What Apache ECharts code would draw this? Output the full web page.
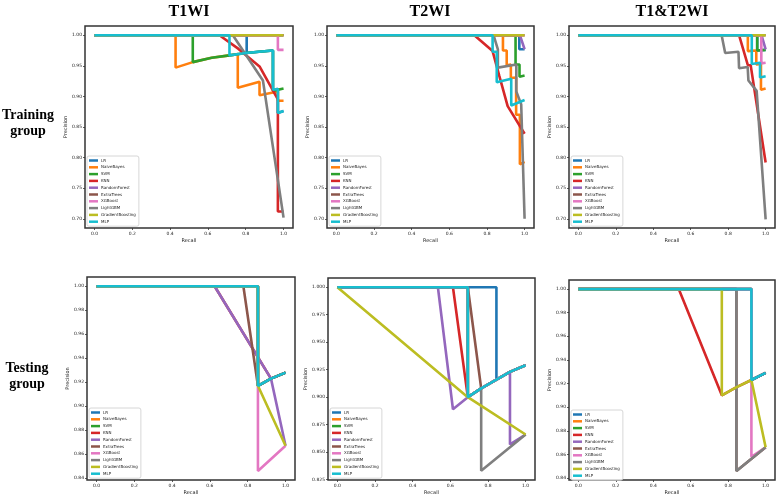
<!DOCTYPE html>
<html>
<head>
<meta charset="utf-8">
<script src="https://cdn.jsdelivr.net/npm/echarts@6/dist/echarts.min.js"></script>
<style>
  html, body { margin: 0; padding: 0; background: #fff; }
  #chart { width: 777px; height: 496px; }
</style>
</head>
<body>
<div id="chart"></div>
<script>
(function () {

    var models = ['LR', 'NaiveBayes', 'SVM', 'KNN', 'RandomForest', 'ExtraTrees', 'XGBoost', 'LightGBM', 'GradientBoosting', 'MLP'];
    var colors = ['#1f77b4', '#ff7f0e', '#2ca02c', '#d62728', '#9467bd', '#8c564b', '#e377c2', '#7f7f7f', '#bcbd22', '#17becf'];

    var xTicks = [0, 0.2, 0.4, 0.6, 0.8, 1.0];
    var yTicksTrain = [0.70, 0.75, 0.80, 0.85, 0.90, 0.95, 1.00];
    var yTicksTest = [0.84, 0.86, 0.88, 0.90, 0.92, 0.94, 0.96, 0.98, 1.00];
    var yTicksTestT2 = [0.825, 0.850, 0.875, 0.900, 0.925, 0.950, 0.975, 1.000];

    // curves in the order of models: [recall, precision]
    var trainT1 = [
        [[0, 1], [0.805, 1], [0.805, 0.971], [0.87, 0.973], [0.944, 0.975], [0.944, 0.911], [0.97, 0.912], [0.97, 0.873], [1, 0.876]],
        [[0, 1], [0.429, 1], [0.429, 0.947], [0.52, 0.956], [0.62, 0.963], [0.714, 0.967], [0.758, 0.969], [0.758, 0.914], [0.873, 0.924], [0.873, 0.902], [0.97, 0.908], [0.97, 0.893], [1, 0.893]],
        [[0, 1], [0.52, 1], [0.52, 0.956], [0.62, 0.963], [0.714, 0.967], [0.8, 0.971], [0.87, 0.973], [0.944, 0.975], [0.944, 0.909], [1, 0.913]],
        [[0, 1], [0.661, 1], [0.76, 0.978], [0.873, 0.949], [0.97, 0.895], [0.97, 0.712], [1, 0.712]],
        [[0, 1], [1, 1]],
        [[0, 1], [1, 1]],
        [[0, 1], [0.97, 1], [0.97, 0.976], [1, 0.976]],
        [[0, 1], [0.732, 1], [0.891, 0.926], [1, 0.702]],
        [[0, 1], [1, 1]],
        [[0, 1], [0.714, 1], [0.714, 0.967], [0.8, 0.971], [0.87, 0.973], [0.944, 0.975], [0.944, 0.911], [0.97, 0.912], [0.97, 0.873], [1, 0.876]]
    ];

    var trainT2 = [
        [[0, 1], [0.972, 1], [0.972, 0.977], [1, 0.977]],
        [[0, 1], [0.885, 1], [0.885, 0.975], [0.905, 0.975], [0.905, 0.951], [0.927, 0.952], [0.927, 0.93], [0.955, 0.931], [0.955, 0.87], [0.975, 0.87], [0.975, 0.789], [1, 0.793]],
        [[0, 1], [0.952, 1], [0.952, 0.952], [0.973, 0.952], [0.973, 0.932], [1, 0.934]],
        [[0, 1], [0.733, 1], [0.83, 0.974], [0.866, 0.933], [0.91, 0.884], [1, 0.839]],
        [[0, 1], [0.975, 1], [1, 0.977]],
        [[0, 1], [1, 1]],
        [[0, 1], [1, 1]],
        [[0, 1], [0.835, 1], [0.858, 0.977], [0.858, 0.947], [0.956, 0.952], [0.956, 0.908], [0.982, 0.887], [1, 0.70]],
        [[0, 1], [1, 1]],
        [[0, 1], [0.83, 1], [0.83, 0.973], [0.852, 0.973], [0.852, 0.923], [0.929, 0.929], [0.929, 0.885], [1, 0.894]]
    ];

    var trainT12 = [
        [[0, 1], [0.955, 1], [0.955, 0.975], [1, 0.976]],
        [[0, 1], [0.905, 1], [0.905, 0.974], [0.95, 0.975], [0.95, 0.952], [0.975, 0.953], [0.975, 0.911], [1, 0.913]],
        [[0, 1], [0.955, 1], [0.955, 0.975], [1, 0.976]],
        [[0, 1], [0.858, 1], [0.905, 0.951], [0.92, 0.951], [1, 0.792]],
        [[0, 1], [0.978, 1], [1, 0.977]],
        [[0, 1], [1, 1]],
        [[0, 1], [0.977, 1], [0.977, 0.954], [1, 0.955]],
        [[0, 1], [0.765, 1], [0.784, 0.971], [0.855, 0.973], [0.858, 0.946], [0.904, 0.948], [0.908, 0.926], [0.952, 0.909], [1, 0.699]],
        [[0, 1], [1, 1]],
        [[0, 1], [0.926, 1], [0.926, 0.953], [0.97, 0.955], [0.97, 0.931], [1, 0.933]]
    ];

    var testT1 = [
        [[0, 1], [0.854, 1], [0.854, 0.917], [0.923, 0.923], [1, 0.928]],
        [[0, 1], [0.854, 1], [0.854, 0.917], [0.923, 0.923], [1, 0.928]],
        [[0, 1], [0.854, 1], [0.854, 0.917], [0.923, 0.923], [1, 0.928]],
        [[0, 1], [0.625, 1], [0.923, 0.923], [1, 0.928]],
        [[0, 1], [0.625, 1], [0.923, 0.923], [1, 0.867]],
        [[0, 1], [0.777, 1], [0.854, 0.917], [0.923, 0.923], [1, 0.928]],
        [[0, 1], [0.854, 1], [0.854, 0.917], [0.854, 0.846], [1, 0.867]],
        [[0, 1], [0.854, 1], [0.854, 0.917], [0.923, 0.923], [1, 0.928]],
        [[0, 1], [0.854, 1], [0.854, 0.917], [1, 0.867]],
        [[0, 1], [0.854, 1], [0.854, 0.917], [0.923, 0.923], [1, 0.928]]
    ];

    var testT2 = [
        [[0, 1], [0.845, 1], [0.845, 0.916], [0.917, 0.923], [1, 0.929]],
        [[0, 1], [0.693, 1], [0.693, 0.9], [0.764, 0.908], [0.845, 0.916], [0.917, 0.923], [1, 0.929]],
        [[0, 1], [0.693, 1], [0.693, 0.9], [0.764, 0.908], [0.845, 0.916], [0.917, 0.923], [1, 0.929]],
        [[0, 1], [0.614, 1], [0.693, 0.9], [0.764, 0.908], [0.845, 0.916], [0.917, 0.923], [1, 0.929]],
        [[0, 1], [0.534, 1], [0.614, 0.889], [0.693, 0.9], [0.764, 0.908], [0.845, 0.916], [0.917, 0.923], [0.917, 0.857], [1, 0.866]],
        [[0, 1], [0.693, 1], [0.764, 0.908], [0.845, 0.916], [0.917, 0.923], [1, 0.929]],
        [[0, 1], [0.693, 1], [0.693, 0.9], [0.764, 0.908], [0.845, 0.916], [0.917, 0.923], [1, 0.929]],
        [[0, 1], [0.693, 1], [0.693, 0.9], [0.764, 0.908], [0.764, 0.833], [1, 0.866]],
        [[0, 1], [0.693, 0.9], [1, 0.866]],
        [[0, 1], [0.693, 1], [0.693, 0.9], [0.764, 0.908], [0.845, 0.916], [0.917, 0.923], [1, 0.929]]
    ];

    var testT12 = [
        [[0, 1], [0.924, 1], [0.924, 0.923], [1, 0.929]],
        [[0, 1], [0.924, 1], [0.924, 0.923], [1, 0.929]],
        [[0, 1], [0.924, 1], [0.924, 0.923], [1, 0.929]],
        [[0, 1], [0.536, 1], [0.766, 0.91], [0.845, 0.917], [0.924, 0.923], [1, 0.929]],
        [[0, 1], [0.924, 1], [0.924, 0.923], [1, 0.929]],
        [[0, 1], [0.844, 1], [0.844, 0.846], [1, 0.866]],
        [[0, 1], [0.924, 1], [0.924, 0.923], [0.924, 0.858], [1, 0.866]],
        [[0, 1], [0.844, 1], [0.844, 0.846], [1, 0.866]],
        [[0, 1], [0.766, 1], [0.766, 0.91], [0.845, 0.917], [0.924, 0.923], [1, 0.866]],
        [[0, 1], [0.924, 1], [0.924, 0.923], [1, 0.929]]
    ];

    var panels = [
        { curves: trainT1, rect: [85, 26, 208, 202], yMin: 0.685, yMax: 1.015, yTicks: yTicksTrain, dec: 2 },
        { curves: trainT2, rect: [327, 26, 207, 202], yMin: 0.685, yMax: 1.015, yTicks: yTicksTrain, dec: 2 },
        { curves: trainT12, rect: [569, 26, 206, 202], yMin: 0.685, yMax: 1.015, yTicks: yTicksTrain, dec: 2 },
        { curves: testT1, rect: [87, 277, 208, 203], yMin: 0.8385, yMax: 1.0077, yTicks: yTicksTest, dec: 2 },
        { curves: testT2, rect: [328, 278, 207, 202], yMin: 0.8246, yMax: 1.0084, yTicks: yTicksTestT2, dec: 3 },
        { curves: testT12, rect: [569, 280, 206, 202], yMin: 0.8383, yMax: 1.0077, yTicks: yTicksTest, dec: 2 }
    ];

    var grid = [], xAxis = [], yAxis = [], legend = [], series = [];
    var tickStyle = { show: true, inside: false, length: 2, lineStyle: { color: '#333', width: 0.8 } };
    var labelFont = { fontSize: 4.5, color: '#222', fontFamily: 'DejaVu Sans' };

    panels.forEach(function (p, i) {
        var r = p.rect;
        grid.push({
            left: r[0], top: r[1], width: r[2], height: r[3],
            show: true, borderColor: '#333', borderWidth: 1.5, backgroundColor: 'transparent'
        });
        xAxis.push({
            type: 'value', gridIndex: i, min: -0.05, max: 1.05,
            axisLine: { show: false, onZero: false },
            splitLine: { show: false },
            axisTick: Object.assign({ customValues: xTicks }, tickStyle),
            axisLabel: Object.assign({
                customValues: xTicks, margin: 3,
                formatter: function (v) { return v.toFixed(1); }
            }, labelFont),
            name: 'Recall', nameLocation: 'middle', nameGap: 10,
            nameTextStyle: { fontSize: 5, color: '#222', fontFamily: 'DejaVu Sans' }
        });
        yAxis.push({
            type: 'value', gridIndex: i, min: p.yMin, max: p.yMax,
            axisLine: { show: false, onZero: false },
            splitLine: { show: false },
            axisTick: Object.assign({ customValues: p.yTicks }, tickStyle),
            axisLabel: Object.assign({
                customValues: p.yTicks, margin: 3,
                formatter: function (v) { return v.toFixed(p.dec); }
            }, labelFont),
            name: 'Precision', nameLocation: 'middle', nameGap: p.dec === 3 ? 16 : 13,
            nameTextStyle: { fontSize: 5, color: '#222', fontFamily: 'DejaVu Sans' }
        });
        legend.push({
            data: models,
            orient: 'vertical',
            left: r[0] + 2,
            top: r[1] + r[3] - 72,
            itemWidth: 9, itemHeight: 2.5, itemGap: 1.8,
            icon: 'rect',
            padding: [2, 3, 2, 2],
            borderColor: '#ccc', borderWidth: 0.8, borderRadius: 2,
            backgroundColor: 'rgba(255,255,255,0.8)',
            textStyle: { fontSize: 4, lineHeight: 5, color: '#222', fontFamily: 'DejaVu Sans', padding: [0, 0, 0, -2] }
        });
        p.curves.forEach(function (pts, k) {
            series.push({
                name: models[k], type: 'line', xAxisIndex: i, yAxisIndex: i,
                data: pts, symbol: 'none', animation: false,
                lineStyle: { color: colors[k], width: 2.6 },
                itemStyle: { color: colors[k] }
            });
        });
    });

    var serif = 'bold 16px "Liberation Serif", "DejaVu Serif", serif';
    var rowFont = 'bold 14px "Liberation Serif", "DejaVu Serif", serif';
    var graphic = [
        { type: 'text', style: { text: 'T1WI', x: 189, y: 12, textAlign: 'center', textVerticalAlign: 'middle', font: serif, fill: '#000' } },
        { type: 'text', style: { text: 'T2WI', x: 430, y: 12, textAlign: 'center', textVerticalAlign: 'middle', font: serif, fill: '#000' } },
        { type: 'text', style: { text: 'T1&T2WI', x: 672, y: 12, textAlign: 'center', textVerticalAlign: 'middle', font: serif, fill: '#000' } },
        { type: 'text', style: { text: 'Training\ngroup', x: 28, y: 123, textAlign: 'center', textVerticalAlign: 'middle', font: rowFont, lineHeight: 16, fill: '#000' } },
        { type: 'text', style: { text: 'Testing\ngroup', x: 27, y: 376, textAlign: 'center', textVerticalAlign: 'middle', font: rowFont, lineHeight: 16, fill: '#000' } }
    ];

    var chart = echarts.init(document.getElementById('chart'), null, { renderer: 'canvas' });
    chart.setOption({
        animation: false,
        backgroundColor: '#fff',
        grid: grid,
        xAxis: xAxis,
        yAxis: yAxis,
        legend: legend,
        graphic: graphic,
        series: series
    });

})();
</script>
</body>
</html>
